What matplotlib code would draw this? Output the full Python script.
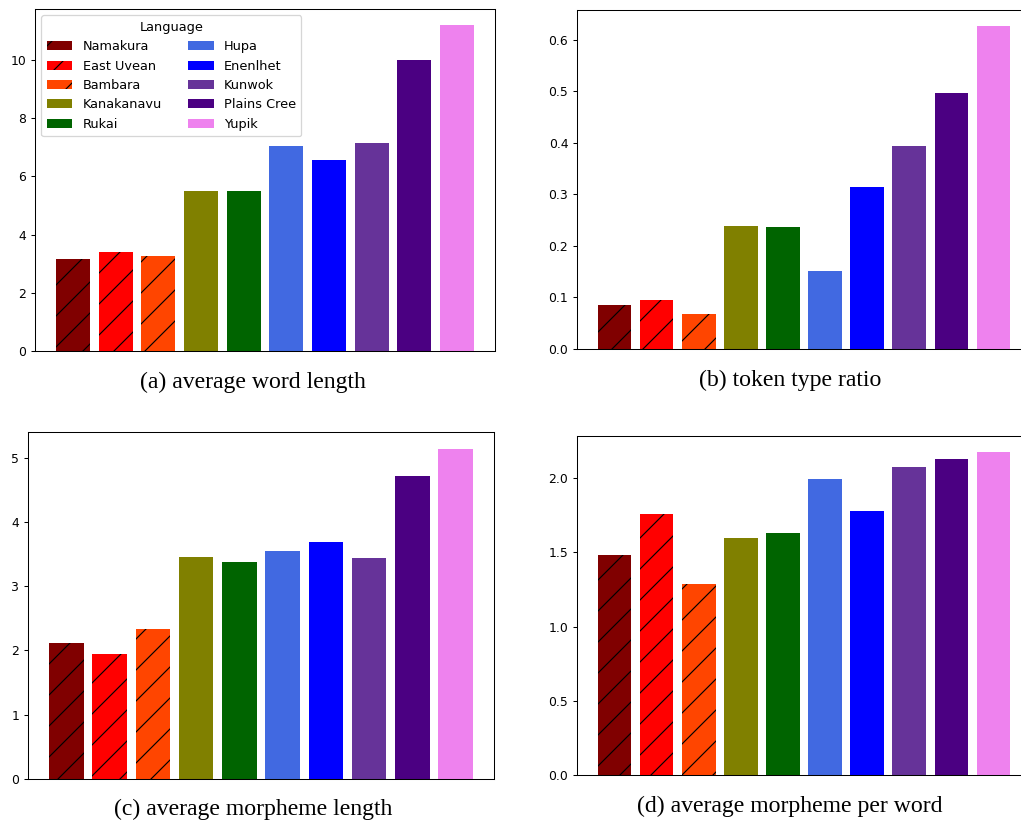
import matplotlib
matplotlib.use("Agg")
import matplotlib.pyplot as plt

languages = ["Namakura", "East Uvean", "Bambara", "Kanakanavu", "Rukai",
             "Hupa", "Enenlhet", "Kunwok", "Plains Cree", "Yupik"]
colors = ["maroon", "red", "orangered", "olive", "darkgreen",
          "royalblue", "blue", "rebeccapurple", "indigo", "violet"]
hatches = ["/", "/", "/", "", "", "", "", "", "", ""]

word_len = [3.16, 3.41, 3.25, 5.50, 5.50, 7.06, 6.56, 7.16, 10.01, 11.19]
type_ratio = [0.085, 0.095, 0.068, 0.239, 0.237, 0.150, 0.314, 0.394, 0.497, 0.627]
morph_len = [2.12, 1.95, 2.34, 3.45, 3.37, 3.54, 3.68, 3.43, 4.72, 5.14]
morph_per_word = [1.48, 1.76, 1.285, 1.594, 1.63, 1.996, 1.776, 2.076, 2.126, 2.175]

captions = ["(a) average word length", "(b) token type ratio",
            "(c) average morpheme length", "(d) average morpheme per word"]

W, H = 1021, 823
DPI = 93  # hatch spacing = dpi/3 px, reference shows ~31 px

plt.rcParams["hatch.linewidth"] = 0.9
plt.rcParams["axes.linewidth"] = 0.8
plt.rcParams["ytick.major.size"] = 3.2
plt.rcParams["ytick.major.width"] = 0.8
plt.rcParams["font.size"] = 9.6

fig = plt.figure(figsize=(W / DPI, H / DPI), dpi=DPI)


def box(left, top, right, bottom):
    # pixel box -> figure fraction
    return [left / W, 1 - bottom / H, (right - left) / W, (bottom - top) / H]


# axes boxes in pixels (left, top, right, bottom)
boxes = [box(35, 9, 495, 351), box(577, 9.5, 1031, 348.7),
         box(28, 432, 494, 779), box(577, 436, 1031, 775)]
cap_pos = [(253, 382), (790, 380), (253, 809), (790, 806)]
data = [word_len, type_ratio, morph_len, morph_per_word]

x = range(len(languages))
for i in range(4):
    ax = fig.add_axes(boxes[i])
    bars = ax.bar(x, data[i], color=colors, label=languages)
    for b, h in zip(bars, hatches):
        b.set_hatch(h)
    ax.set_xticks([])
    if i == 0:
        ax.legend(title="Language", ncol=2, loc="upper left",
                  fontsize=10, title_fontsize=10, borderaxespad=0.5)
    fig.text(cap_pos[i][0] / W, 1 - cap_pos[i][1] / H, captions[i],
             ha="center", va="center", family="Liberation Serif", fontsize=18.4)

fig.savefig("out.png", dpi=DPI, facecolor="white")
